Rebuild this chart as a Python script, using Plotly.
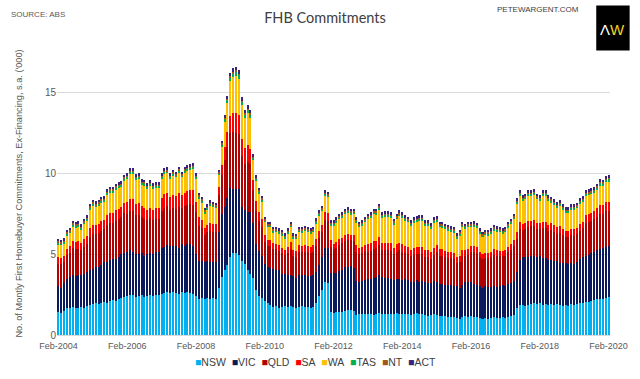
import plotly.graph_objects as go
import pandas as pd

months = [d.strftime("%b-%Y") for d in pd.date_range("2004-02-01", periods=193, freq="MS")]
tick_labels = ["Feb-2004", "Feb-2006", "Feb-2008", "Feb-2010", "Feb-2012",
               "Feb-2014", "Feb-2016", "Feb-2018", "Feb-2020"]
y_ticks = [0, 5, 10, 15]

nsw = [
1.40,1.38,1.50,1.65,1.70,1.72,1.70,1.68,1.72,1.70,1.80,1.85,
1.90,1.95,1.92,2.00,2.05,2.00,2.10,2.15,2.10,2.20,2.30,2.35,
2.40,2.50,2.45,2.35,2.40,2.45,2.35,2.40,2.45,2.40,2.50,2.45,
2.55,2.60,2.65,2.60,2.65,2.60,2.55,2.65,2.60,2.65,2.60,2.55,
2.40,2.25,2.30,2.25,2.30,2.25,2.30,2.20,2.90,3.60,4.00,4.30,
4.80,5.10,5.05,4.95,4.60,4.40,4.00,3.80,3.50,2.80,2.40,2.30,
2.10,2.00,1.85,1.75,1.80,1.70,1.75,1.80,1.75,1.78,1.72,1.70,
1.75,1.78,1.75,1.72,1.70,1.75,2.00,2.40,2.80,3.30,3.20,1.40,
1.35,1.40,1.42,1.45,1.50,1.55,1.55,1.50,1.25,1.30,1.28,1.30,
1.30,1.28,1.25,1.30,1.35,1.30,1.28,1.30,1.30,1.32,1.35,1.30,
1.30,1.32,1.28,1.25,1.30,1.35,1.30,1.28,1.25,1.20,1.25,1.30,
1.25,1.20,1.15,1.15,1.12,1.10,1.12,1.05,1.00,1.10,1.15,1.12,
1.15,1.10,1.12,1.05,1.00,1.05,1.02,1.05,1.10,1.08,1.05,1.10,
1.05,1.10,1.15,1.25,1.70,1.85,1.85,1.80,1.85,1.90,1.95,1.90,
1.95,1.85,1.90,1.85,1.90,1.85,1.90,1.85,1.80,1.85,1.80,1.90,
1.85,1.90,1.95,2.00,2.05,2.05,2.10,2.15,2.20,2.25,2.25,2.30,
2.35]

vic = [
1.60,1.55,1.70,1.80,1.90,2.00,1.95,2.00,2.00,2.05,2.10,2.15,
2.20,2.25,2.30,2.35,2.45,2.50,2.55,2.55,2.60,2.60,2.70,2.70,
2.75,2.75,2.70,2.65,2.60,2.65,2.55,2.60,2.65,2.60,2.65,2.70,
2.85,2.85,2.90,2.90,2.85,2.90,2.85,2.95,2.90,2.95,3.00,2.95,
2.60,2.35,2.30,2.25,2.30,2.25,2.20,2.30,3.50,3.90,3.90,4.20,
4.30,3.95,3.95,4.05,3.30,3.30,3.60,3.80,3.40,2.80,2.80,2.60,
2.30,2.20,2.30,2.35,2.25,2.30,2.00,1.95,1.95,1.90,1.95,1.85,
1.95,1.90,1.95,1.95,1.95,1.95,1.90,1.95,2.05,2.10,2.15,2.45,
2.50,2.45,2.55,2.60,2.70,2.65,2.70,2.65,2.10,2.00,2.05,2.10,
2.15,2.20,2.25,2.30,2.35,2.30,2.25,2.20,2.15,2.10,2.10,2.15,
2.10,2.15,2.10,2.05,2.00,2.05,2.00,2.05,2.00,2.00,1.95,2.05,
2.00,1.95,2.00,1.95,1.95,2.00,1.90,1.95,1.90,2.00,2.10,2.15,
2.10,2.05,2.00,1.95,1.90,1.95,1.95,1.90,1.95,1.90,1.95,2.00,
2.00,2.05,2.05,2.10,2.20,2.80,2.95,3.00,2.95,3.00,2.95,2.90,
2.95,2.90,2.85,2.80,2.75,2.70,2.65,2.60,2.65,2.60,2.60,2.55,
2.55,2.60,2.75,2.80,2.85,2.90,2.95,3.00,3.05,3.05,3.10,3.15,
3.15]

qld = [
1.42,1.44,1.34,1.48,1.48,1.63,1.64,1.66,1.52,1.70,1.73,2.06,
2.14,2.03,2.07,2.11,2.06,2.28,2.28,2.25,2.36,2.36,2.28,2.47,
2.33,2.44,2.49,2.39,2.41,2.18,2.26,2.10,2.13,2.10,2.05,2.05,
2.29,2.42,2.40,2.24,2.34,2.29,2.51,2.24,2.45,2.45,2.48,2.56,
2.60,2.15,2.01,1.70,1.76,1.95,1.90,1.87,2.28,2.40,2.90,3.10,
3.40,3.50,3.50,3.45,3.20,2.90,3.10,2.95,2.05,2.05,1.85,1.75,
1.38,1.33,1.36,1.22,1.25,1.22,1.30,1.19,1.38,1.61,1.24,1.27,
1.44,1.45,1.46,1.45,1.41,1.44,1.60,1.63,1.52,1.73,1.71,1.57,
1.46,1.56,1.60,1.61,1.63,1.68,1.61,1.66,1.81,1.68,1.72,1.78,
1.71,1.74,1.82,1.78,1.87,1.68,1.74,1.75,1.75,1.58,1.71,1.80,
1.74,1.62,1.61,1.56,1.65,1.62,1.69,1.68,1.58,1.60,1.51,1.62,
1.88,1.76,1.76,1.73,1.70,1.66,1.67,1.48,1.63,1.78,1.66,1.70,
1.91,1.99,1.95,1.83,1.77,1.77,1.79,1.85,1.91,1.92,1.88,1.77,
1.85,1.97,2.05,2.13,2.05,1.93,1.71,1.76,1.86,1.81,1.83,1.76,
1.66,1.88,1.88,1.78,1.84,1.81,1.71,1.84,1.71,1.61,1.63,1.71,
1.74,1.74,1.76,1.79,2.03,2.03,2.00,2.00,2.06,2.17,2.14,2.19,
2.19]

sa = [
0.39,0.39,0.37,0.40,0.40,0.45,0.45,0.45,0.42,0.46,0.47,0.56,
0.58,0.55,0.57,0.58,0.56,0.62,0.62,0.61,0.64,0.64,0.62,0.67,
0.72,0.75,0.77,0.73,0.74,0.67,0.69,0.65,0.65,0.65,0.63,0.63,
0.81,0.85,0.84,0.79,0.82,0.81,0.88,0.79,0.86,0.86,0.87,0.90,
0.65,0.54,0.50,0.43,0.44,0.49,0.47,0.47,0.50,0.62,0.82,0.95,
1.05,1.15,1.22,1.18,1.05,0.97,1.02,0.98,0.62,0.62,0.55,0.52,
0.38,0.37,0.37,0.34,0.34,0.34,0.36,0.33,0.38,0.45,0.34,0.35,
0.40,0.40,0.41,0.40,0.39,0.40,0.44,0.45,0.42,0.48,0.47,0.44,
0.32,0.34,0.35,0.35,0.36,0.37,0.35,0.36,0.40,0.37,0.38,0.39,
0.45,0.45,0.48,0.46,0.49,0.44,0.45,0.46,0.46,0.41,0.45,0.47,
0.46,0.43,0.43,0.42,0.44,0.43,0.45,0.45,0.42,0.43,0.40,0.43,
0.41,0.39,0.39,0.38,0.37,0.36,0.37,0.33,0.36,0.39,0.36,0.37,
0.34,0.36,0.35,0.33,0.32,0.32,0.32,0.33,0.34,0.34,0.34,0.32,
0.33,0.35,0.37,0.38,0.42,0.39,0.35,0.36,0.38,0.37,0.37,0.36,
0.34,0.38,0.38,0.36,0.42,0.42,0.39,0.42,0.39,0.37,0.38,0.39,
0.40,0.40,0.41,0.41,0.52,0.52,0.51,0.51,0.52,0.55,0.54,0.56,
0.56]

wa = [
0.78,0.78,0.73,0.81,0.81,0.89,0.90,0.90,0.83,0.93,0.94,1.12,
1.17,1.11,1.13,1.15,1.12,1.24,1.24,1.23,1.29,1.29,1.24,1.35,
1.44,1.50,1.53,1.47,1.49,1.34,1.39,1.29,1.31,1.29,1.26,1.26,
1.14,1.22,1.20,1.11,1.18,1.14,1.25,1.11,1.23,1.23,1.24,1.28,
1.39,1.15,1.08,0.91,0.94,1.05,1.02,1.00,0.70,1.12,1.56,1.79,
2.13,2.25,2.32,2.22,2.05,1.85,1.98,1.89,1.23,1.23,1.12,1.07,
0.80,0.76,0.78,0.70,0.72,0.70,0.75,0.69,0.80,0.92,0.71,0.74,
0.82,0.83,0.84,0.84,0.81,0.82,0.92,0.93,0.87,1.00,0.98,0.90,
1.13,1.21,1.24,1.25,1.27,1.31,1.25,1.29,1.40,1.31,1.33,1.39,
1.55,1.59,1.66,1.62,1.70,1.54,1.59,1.60,1.60,1.45,1.55,1.64,
1.66,1.54,1.54,1.48,1.57,1.56,1.62,1.60,1.51,1.53,1.45,1.56,
1.47,1.36,1.36,1.35,1.32,1.29,1.30,1.15,1.27,1.39,1.29,1.32,
1.16,1.21,1.19,1.10,1.07,1.07,1.08,1.13,1.16,1.17,1.14,1.07,
1.13,1.19,1.24,1.30,1.72,1.62,1.43,1.47,1.55,1.51,1.54,1.47,
1.39,1.58,1.58,1.50,1.28,1.26,1.19,1.28,1.19,1.11,1.13,1.19,
1.20,1.20,1.22,1.24,1.14,1.14,1.13,1.13,1.16,1.22,1.21,1.24,
1.24]

tas = [
0.14,0.13,0.14,0.15,0.14,0.15,0.14,0.14,0.15,0.14,0.15,0.15,
0.15,0.14,0.15,0.15,0.14,0.15,0.16,0.15,0.14,0.15,0.15,0.16,
0.15,0.16,0.15,0.14,0.15,0.14,0.15,0.14,0.15,0.14,0.15,0.14,
0.15,0.14,0.15,0.14,0.15,0.14,0.15,0.14,0.14,0.15,0.14,0.15,
0.14,0.13,0.13,0.12,0.13,0.12,0.13,0.13,0.13,0.15,0.18,0.20,
0.23,0.24,0.25,0.24,0.22,0.21,0.22,0.21,0.17,0.17,0.16,0.15,
0.14,0.13,0.13,0.12,0.13,0.13,0.12,0.13,0.13,0.14,0.12,0.13,
0.13,0.12,0.13,0.13,0.12,0.13,0.13,0.14,0.13,0.14,0.13,0.13,
0.13,0.12,0.13,0.12,0.13,0.13,0.12,0.13,0.12,0.13,0.12,0.13,
0.13,0.12,0.13,0.12,0.13,0.12,0.13,0.12,0.13,0.12,0.13,0.12,
0.13,0.12,0.13,0.12,0.12,0.13,0.12,0.13,0.12,0.12,0.13,0.12,
0.12,0.13,0.12,0.12,0.13,0.12,0.12,0.13,0.12,0.13,0.12,0.13,
0.13,0.12,0.13,0.12,0.12,0.13,0.12,0.12,0.13,0.12,0.13,0.12,
0.13,0.12,0.13,0.13,0.14,0.15,0.14,0.14,0.15,0.14,0.15,0.14,
0.15,0.14,0.15,0.14,0.14,0.15,0.14,0.13,0.14,0.13,0.14,0.14,
0.14,0.13,0.14,0.14,0.15,0.14,0.15,0.14,0.15,0.16,0.15,0.16,
0.16]

nt = [
0.06,0.06,0.05,0.06,0.06,0.06,0.07,0.06,0.06,0.06,0.06,0.06,
0.06,0.07,0.06,0.06,0.06,0.06,0.06,0.07,0.06,0.06,0.06,0.06,
0.06,0.06,0.07,0.06,0.06,0.06,0.06,0.06,0.07,0.06,0.06,0.06,
0.06,0.07,0.06,0.06,0.06,0.07,0.06,0.06,0.06,0.06,0.07,0.06,
0.06,0.06,0.06,0.05,0.06,0.06,0.06,0.06,0.06,0.06,0.07,0.07,
0.08,0.08,0.08,0.08,0.07,0.07,0.07,0.07,0.06,0.06,0.06,0.06,
0.06,0.06,0.05,0.06,0.06,0.06,0.06,0.06,0.05,0.06,0.06,0.06,
0.06,0.06,0.06,0.05,0.06,0.06,0.06,0.06,0.06,0.06,0.06,0.06,
0.06,0.05,0.06,0.06,0.06,0.06,0.06,0.06,0.06,0.06,0.05,0.06,
0.06,0.06,0.06,0.06,0.06,0.06,0.05,0.06,0.06,0.06,0.06,0.06,
0.06,0.06,0.06,0.06,0.05,0.06,0.06,0.06,0.06,0.06,0.06,0.05,
0.06,0.06,0.06,0.06,0.06,0.05,0.06,0.06,0.06,0.06,0.06,0.06,
0.06,0.06,0.05,0.06,0.06,0.06,0.06,0.06,0.06,0.05,0.06,0.06,
0.06,0.06,0.06,0.06,0.06,0.06,0.06,0.06,0.06,0.06,0.06,0.06,
0.06,0.06,0.06,0.06,0.06,0.06,0.06,0.06,0.06,0.06,0.06,0.06,
0.06,0.06,0.06,0.06,0.06,0.06,0.06,0.06,0.06,0.06,0.06,0.06,
0.06]

act = [
0.16,0.17,0.16,0.16,0.15,0.16,0.16,0.17,0.16,0.16,0.16,0.16,
0.16,0.16,0.17,0.16,0.15,0.16,0.16,0.16,0.17,0.16,0.16,0.16,
0.16,0.16,0.16,0.17,0.16,0.15,0.16,0.16,0.16,0.17,0.16,0.16,
0.16,0.16,0.17,0.16,0.16,0.16,0.16,0.17,0.16,0.16,0.16,0.16,
0.16,0.16,0.17,0.16,0.16,0.16,0.15,0.16,0.13,0.15,0.17,0.19,
0.21,0.23,0.23,0.23,0.21,0.20,0.21,0.20,0.17,0.17,0.16,0.15,
0.15,0.15,0.16,0.15,0.15,0.14,0.15,0.15,0.16,0.15,0.15,0.15,
0.15,0.16,0.15,0.15,0.15,0.15,0.16,0.15,0.15,0.15,0.15,0.15,
0.15,0.16,0.15,0.15,0.15,0.15,0.16,0.15,0.15,0.15,0.16,0.15,
0.15,0.15,0.16,0.15,0.15,0.15,0.16,0.15,0.15,0.15,0.15,0.16,
0.15,0.15,0.15,0.16,0.15,0.15,0.15,0.15,0.16,0.15,0.15,0.15,
0.15,0.15,0.16,0.15,0.15,0.15,0.15,0.16,0.15,0.15,0.15,0.15,
0.15,0.16,0.15,0.15,0.15,0.15,0.16,0.15,0.15,0.15,0.15,0.16,
0.15,0.15,0.15,0.16,0.16,0.16,0.17,0.16,0.16,0.16,0.17,0.16,
0.16,0.17,0.16,0.16,0.16,0.16,0.17,0.16,0.16,0.16,0.16,0.17,
0.16,0.16,0.16,0.17,0.16,0.16,0.16,0.17,0.16,0.17,0.16,0.17,
0.17]

series_names = ["NSW", "VIC", "QLD", "SA", "WA", "TAS", "NT", "ACT"]
series_values = [nsw, vic, qld, sa, wa, tas, nt, act]
series_colors = ["#00B0F0", "#0A1A5C", "#B00000", "#FF0000", "#FFC000",
                 "#00B050", "#A0561E", "#3A237E"]

for v in series_values:
    assert len(v) == len(months), len(v)

fig = go.Figure()
for name, vals, col in zip(series_names, series_values, series_colors):
    fig.add_trace(go.Bar(x=months, y=vals, name=name, marker_color=col,
                         marker_line_width=0))

legend_html = "&nbsp;&nbsp;".join(
    f'<span style="color:{c}">■</span>{n}' for n, c in zip(series_names, series_colors))

fig.update_layout(
    width=640, height=379,
    margin=dict(l=57, r=20, t=52, b=44),
    barmode="stack", bargap=0.3,
    plot_bgcolor="white", paper_bgcolor="white",
    showlegend=False,
    font=dict(family="Liberation Sans, Arial, sans-serif", color="#595959"),
    title=dict(text="FHB Commitments", x=325/640, xref="container", xanchor="center",
               y=1-18/379, yref="container", yanchor="middle",
               font=dict(family="Lato, Open Sans, sans-serif", size=14.5, color="#404040")),
    xaxis=dict(type="category", range=[-0.5, len(months) - 0.5],
               tickvals=tick_labels, ticktext=tick_labels,
               tickfont=dict(size=9, color="#595959"), ticks="",
               ticklabelstandoff=2,
               showgrid=False, showline=True, linecolor="#D9D9D9"),
    yaxis=dict(range=[0, 17.5], tickvals=y_ticks, ticks="",
               tickfont=dict(size=10, color="#595959"),
               showgrid=True, gridcolor="#D9D9D9", gridwidth=1, zeroline=False,
               title=dict(text="No. of Montly First Homebuyer Commitments, Ex-Financing, s.a. ('000)",
                          font=dict(size=9.2, color="#595959"), standoff=20)),
    annotations=[
        dict(text="SOURCE: ABS", xref="paper", yref="paper", x=(8-57)/563, y=(335-14)/283.5,
             xanchor="left", yanchor="middle", showarrow=False,
             font=dict(size=8, color="#595959")),
        dict(text="PETEWARGENT.COM", xref="paper", yref="paper", x=(590-57)/563, y=(335-9)/283.5,
             xanchor="right", yanchor="middle", showarrow=False,
             font=dict(size=8, color="#404040")),
        dict(text='<span style="color:#FFFFFF">Λ</span><span style="color:#F2D024">W</span>',
             xref="paper", yref="paper", x=(623-57)/563, y=(335-29)/283.5,
             xanchor="center", yanchor="middle", showarrow=False,
             font=dict(size=15, family="Liberation Sans, Arial")),
        dict(text=legend_html, xref="paper", yref="paper", x=(320-57)/563, y=(335-362)/283.5,
             xanchor="center", yanchor="middle", showarrow=False,
             font=dict(size=10.5, color="#404040")),
    ],
    shapes=[
        dict(type="rect", xref="paper", yref="paper",
             x0=(606-57)/563, x1=(640-57)/563, y0=(335-50)/283.5, y1=(335-5)/283.5,
             fillcolor="black", line_width=0, layer="above"),
    ],
)

fig.write_html("out.html", config={"displayModeBar": False},
               post_script="document.body.style.margin='0px';document.body.style.overflow='hidden';")
